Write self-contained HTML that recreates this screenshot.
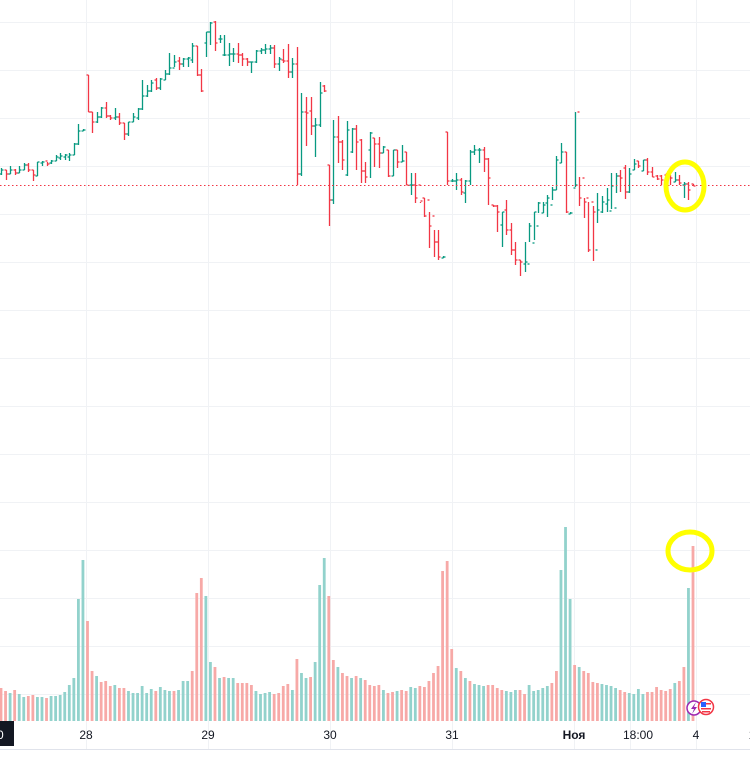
<!DOCTYPE html>
<html><head><meta charset="utf-8"><style>
html,body{margin:0;padding:0;background:#fff;width:750px;height:782px;overflow:hidden}
svg{display:block;font-family:"Liberation Sans",sans-serif}
</style></head><body>
<svg id="chart" width="750" height="782" xmlns="http://www.w3.org/2000/svg">
<g id="grid"></g>
<g id="vol"></g>
<g id="bars"></g>
<line x1="0" x2="750" y1="185.5" y2="185.5" stroke="#f23645" stroke-width="1" stroke-dasharray="1.5 2.5"/>
<ellipse cx="685" cy="186" rx="19" ry="24" fill="none" stroke="#ffff00" stroke-width="5"/>
<ellipse cx="690" cy="551" rx="22" ry="19" fill="none" stroke="#ffff00" stroke-width="5"/>
<g><circle cx="694" cy="708" r="7" fill="#fff" stroke="#9c27b0" stroke-width="1.5"/><path d="M696 702 L691 709 L694 709 L692 714 L697 707 L694 707 Z" fill="#9c27b0"/></g>
<g><circle cx="706" cy="707" r="7.5" fill="#fff" stroke="#f23645" stroke-width="1.5"/><rect x="701" y="702" width="5" height="5" fill="#2962ff"/><rect x="706" y="703" width="5" height="1.5" fill="#f23645"/><rect x="701" y="708" width="10" height="1.5" fill="#f23645"/><rect x="702" y="711" width="8" height="1.5" fill="#f23645"/></g>
<line x1="0" x2="750" y1="749.5" y2="749.5" stroke="#e0e3eb"/>
<g id="axis" font-size="12" fill="#131722"></g>
<rect x="0" y="721" width="14" height="25" fill="#131722"/>
<text x="-3" y="739" fill="#fff" font-size="12">0</text>
</svg>
<script>
// price values = 300 - pixel-ish reading (arbitrary units)
const highs=[132,130,134,131,134,137,137,130,138,139,138,140,145,147,146,147,157,176,171,225,188,188,193,198,185,192,187,177,178,187,192,220,215,220,222,222,230,247,245,243,242,243,257,254,231,268,278,279,265,265,257,252,257,247,242,238,250,252,256,255,255,243,251,256,242,253,207,203,203,182,218,215,135,180,184,160,179,172,175,161,138,168,162,163,154,150,150,150,155,148,127,127,97,102,88,70,70,44,168,121,127,122,120,150,155,152,153,142,95,95,88,100,77,58,40,58,77,88,98,98,105,113,144,157,148,88,188,123,102,98,94,107,104,112,127,127,130,135,132,141,139,140,142,133,125,125,127,125,128,125,118,118,116];
const lows=[125,120,126,125,127,130,128,119,124,134,134,136,139,140,140,139,145,155,169,188,167,177,182,182,180,180,175,160,164,178,180,190,203,208,210,210,220,225,233,230,233,233,237,224,208,243,255,249,257,244,234,238,237,234,234,227,237,246,246,246,232,229,237,222,222,115,124,154,165,143,173,208,74,96,137,130,124,147,130,117,117,122,133,132,147,123,124,132,138,115,105,97,98,83,52,43,40,42,115,118,110,105,97,115,145,137,128,95,93,68,53,65,45,35,24,28,58,60,87,87,83,100,110,137,87,86,113,94,82,48,39,77,87,88,91,107,108,101,107,130,132,129,125,123,120,115,115,115,118,115,102,100,114];
const opens=[126,130,126,130,127,130,135,130,124,137,139,137,139,142,143,143,145,156,169,225,188,178,183,192,184,182,183,177,166,178,182,191,204,209,220,212,220,226,232,239,236,241,240,254,225,257,268,278,261,245,245,246,246,245,241,238,238,249,250,251,252,236,240,239,228,236,126,188,189,174,175,214,135,100,163,158,125,148,171,160,129,150,162,156,147,150,124,150,138,148,115,115,115,102,100,84,58,42,168,119,119,120,107,119,148,150,150,141,95,94,75,90,70,50,40,36,36,57,74,87,97,95,110,137,148,86,112,188,122,102,98,50,88,96,89,92,124,132,108,130,139,129,140,128,124,124,125,126,118,120,115,116,116];
const closes=[130,126,130,127,130,135,130,125,138,138,136,139,143,144,145,145,156,169,170,188,178,183,192,184,182,183,177,166,178,183,191,204,209,217,212,221,226,232,238,236,241,242,254,225,209,268,277,257,261,245,246,246,245,241,238,238,249,250,251,252,236,241,239,228,236,126,188,187,174,175,207,209,100,163,158,140,170,171,158,129,123,167,156,147,153,124,150,138,139,115,115,102,99,84,74,58,43,43,119,119,120,108,119,148,150,150,141,122,94,88,88,70,50,40,38,38,74,88,97,95,102,110,140,148,88,87,115,102,98,50,88,90,98,100,114,124,122,108,126,136,134,140,128,123,121,120,122,122,120,117,116,110,114];
const volumes=[33,30,28,31,27,24,25,26,24,24,23,25,25,26,29,36,43,122,161,100,50,45,39,40,35,36,33,33,30,28,28,35,28,32,30,34,31,30,30,31,40,40,50,128,143,125,59,54,43,44,43,43,38,38,38,36,30,27,28,29,27,28,35,37,31,62,48,43,44,59,136,163,125,61,54,48,45,43,45,43,41,36,35,36,31,28,29,30,31,30,34,33,35,34,40,48,55,150,160,72,53,50,43,40,37,36,35,36,36,33,31,30,29,31,31,27,36,30,31,33,35,38,50,151,194,122,56,54,50,48,39,38,37,36,35,33,31,29,28,27,32,27,29,29,34,31,30,32,38,40,54,133,175];
const volColors="rrgrggrrggrggggggggrrgrrrgrrggggggrgggrgggrrrggrgrggrrrrggggrrrrgrggrgggrrgrrgrgrrrrgrrgrrggrrrrrrrrgrgrgggrrrrgggrrgggggrrgggrgrrrrggggrrggggrrrrrrgrrgrr";
const timeLabels=["28","29","30","31","Ноя","18:00","4","1"];
const timeLabelX=[86,208,330,452,574,638,696,752];

const N=opens.length;
function xS(i){return 1+i*(692/(N-1));}
function yS(p){return 300-p;}           // price axis
function vS(v){return 721-v;}           // volume axis
const NS="http://www.w3.org/2000/svg";
function mk(t,a,parent){const e=document.createElementNS(NS,t);for(const k in a)e.setAttribute(k,a[k]);parent.appendChild(e);return e;}

const grid=document.getElementById('grid');
for(let y=22;y<=700;y+=48){const l=mk('line',{x1:0,x2:750,y1:y+.5,y2:y+.5,stroke:'#f0f2f5'},grid);

}
[86,208,330,452,574,630,696].forEach(x=>{const l=mk('line',{x1:x+.5,x2:x+.5,y1:0,y2:749,stroke:'#f0f2f5'},grid);

});

const vol=document.getElementById('vol');
volumes.forEach((v,i)=>{const r=mk('rect',{x:xS(i)-1.4,y:vS(v),width:2.8,height:v,fill:volColors[i]==='g'?'#92d2cc':'#f7a9a7'},vol);

});

const bars=document.getElementById('bars');
for(let i=0;i<N;i++){
 const x=Math.round(xS(i))+.5;const c=closes[i]>=opens[i]?'#089981':'#f23645';
 const g=mk('g',{stroke:c,'stroke-width':1.3},bars);
 
 
 mk('line',{x1:x,x2:x,y1:yS(highs[i]),y2:yS(lows[i])},g);
 mk('line',{x1:x-2,x2:x,y1:yS(opens[i]),y2:yS(opens[i])},g);
 mk('line',{x1:x,x2:x+2,y1:yS(closes[i]),y2:yS(closes[i])},g);
}
const axis=document.getElementById('axis');
timeLabels.forEach((t,i)=>{const e=mk('text',{x:timeLabelX[i],y:739,'text-anchor':'middle'},axis);e.textContent=t;
if(t==='Ноя')e.setAttribute('font-weight','bold');

});
</script>
</body></html>
